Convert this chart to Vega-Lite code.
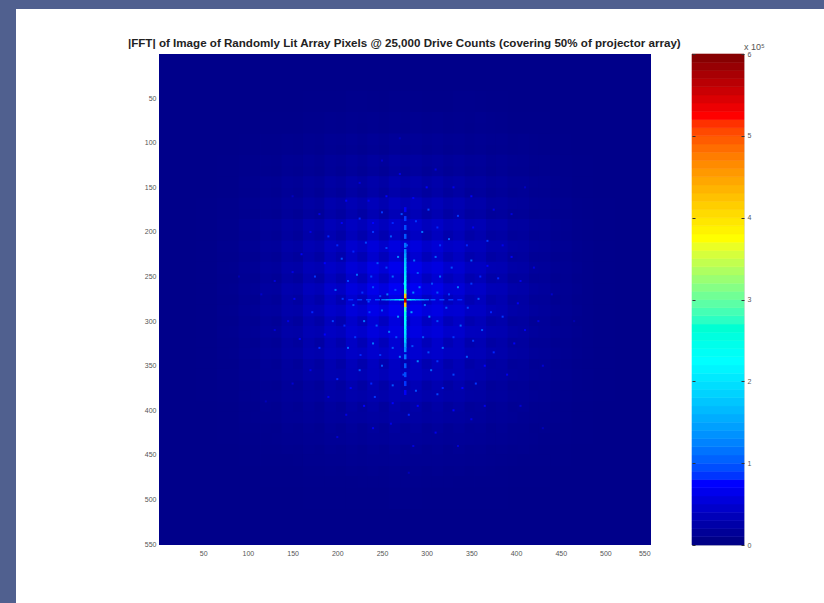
{"$schema":"https://vega.github.io/schema/vega-lite/v6.json","background":"#50608f","padding":{"left":15,"top":8,"right":0,"bottom":0},"bounds":"flush","spacing":41,
"datasets":{
"panel":[{"x":-159.5,"x2":744.6,"y":-50,"y2":617.2}],
"base":[{"x":0.5,"x2":551,"y":0.5,"y2":551,"v":0.07}],
"titleRow":[{"x":275,"y":0.5,"t":"|FFT| of Image of Randomly Lit Array Pixels @ 25,000 Drive Counts (covering 50% of projector array)"}],
"cells":[
{"x":180,"y":60,"v":0.09},{"x":204,"y":60,"v":0.09},{"x":228,"y":60,"v":0.1},{"x":252,"y":60,"v":0.09},{"x":276,"y":60,"v":0.1},{"x":300,"y":60,"v":0.09},{"x":324,"y":60,"v":0.09},{"x":348,"y":60,"v":0.1},{"x":372,"y":60,"v":0.09},
{"x":132,"y":84,"v":0.09},{"x":156,"y":84,"v":0.09},{"x":180,"y":84,"v":0.1},{"x":204,"y":84,"v":0.11},{"x":228,"y":84,"v":0.12},{"x":252,"y":84,"v":0.12},{"x":276,"y":84,"v":0.12},{"x":300,"y":84,"v":0.13},{"x":324,"y":84,"v":0.12},{"x":348,"y":84,"v":0.1},{"x":372,"y":84,"v":0.11},{"x":396,"y":84,"v":0.09},{"x":420,"y":84,"v":0.09},
{"x":108,"y":108,"v":0.09},{"x":132,"y":108,"v":0.1},{"x":156,"y":108,"v":0.12},{"x":180,"y":108,"v":0.13},{"x":204,"y":108,"v":0.15},{"x":228,"y":108,"v":0.15},{"x":252,"y":108,"v":0.16},{"x":276,"y":108,"v":0.17},{"x":300,"y":108,"v":0.16},{"x":324,"y":108,"v":0.15},{"x":348,"y":108,"v":0.14},{"x":372,"y":108,"v":0.13},{"x":396,"y":108,"v":0.12},{"x":420,"y":108,"v":0.1},{"x":444,"y":108,"v":0.09},
{"x":84,"y":132,"v":0.09},{"x":108,"y":132,"v":0.1},{"x":132,"y":132,"v":0.12},{"x":156,"y":132,"v":0.15},{"x":180,"y":132,"v":0.16},{"x":204,"y":132,"v":0.19},{"x":228,"y":132,"v":0.21},{"x":252,"y":132,"v":0.22},{"x":276,"y":132,"v":0.24},{"x":300,"y":132,"v":0.22},{"x":324,"y":132,"v":0.21},{"x":348,"y":132,"v":0.19},{"x":372,"y":132,"v":0.16},{"x":396,"y":132,"v":0.15},{"x":420,"y":132,"v":0.12},{"x":444,"y":132,"v":0.1},{"x":468,"y":132,"v":0.09},
{"x":84,"y":156,"v":0.09},{"x":108,"y":156,"v":0.12},{"x":132,"y":156,"v":0.15},{"x":156,"y":156,"v":0.18},{"x":180,"y":156,"v":0.21},{"x":204,"y":156,"v":0.25},{"x":228,"y":156,"v":0.28},{"x":252,"y":156,"v":0.29},{"x":276,"y":156,"v":0.32},{"x":300,"y":156,"v":0.29},{"x":324,"y":156,"v":0.28},{"x":348,"y":156,"v":0.25},{"x":372,"y":156,"v":0.21},{"x":396,"y":156,"v":0.18},{"x":420,"y":156,"v":0.15},{"x":444,"y":156,"v":0.12},{"x":468,"y":156,"v":0.09},
{"x":60,"y":180,"v":0.09},{"x":84,"y":180,"v":0.1},{"x":108,"y":180,"v":0.13},{"x":132,"y":180,"v":0.16},{"x":156,"y":180,"v":0.21},{"x":180,"y":180,"v":0.25},{"x":204,"y":180,"v":0.32},{"x":228,"y":180,"v":0.36},{"x":252,"y":180,"v":0.39},{"x":276,"y":180,"v":0.42},{"x":300,"y":180,"v":0.39},{"x":324,"y":180,"v":0.36},{"x":348,"y":180,"v":0.32},{"x":372,"y":180,"v":0.25},{"x":396,"y":180,"v":0.21},{"x":420,"y":180,"v":0.16},{"x":444,"y":180,"v":0.13},{"x":468,"y":180,"v":0.1},{"x":492,"y":180,"v":0.09},
{"x":60,"y":204,"v":0.09},{"x":84,"y":204,"v":0.1},{"x":108,"y":204,"v":0.15},{"x":132,"y":204,"v":0.19},{"x":156,"y":204,"v":0.25},{"x":180,"y":204,"v":0.32},{"x":204,"y":204,"v":0.39},{"x":228,"y":204,"v":0.45},{"x":252,"y":204,"v":0.48},{"x":276,"y":204,"v":0.52},{"x":300,"y":204,"v":0.48},{"x":324,"y":204,"v":0.45},{"x":348,"y":204,"v":0.39},{"x":372,"y":204,"v":0.32},{"x":396,"y":204,"v":0.25},{"x":420,"y":204,"v":0.19},{"x":444,"y":204,"v":0.15},{"x":468,"y":204,"v":0.1},{"x":492,"y":204,"v":0.09},
{"x":60,"y":228,"v":0.09},{"x":84,"y":228,"v":0.12},{"x":108,"y":228,"v":0.15},{"x":132,"y":228,"v":0.21},{"x":156,"y":228,"v":0.28},{"x":180,"y":228,"v":0.36},{"x":204,"y":228,"v":0.45},{"x":228,"y":228,"v":0.53},{"x":252,"y":228,"v":0.58},{"x":276,"y":228,"v":0.62},{"x":300,"y":228,"v":0.58},{"x":324,"y":228,"v":0.53},{"x":348,"y":228,"v":0.45},{"x":372,"y":228,"v":0.36},{"x":396,"y":228,"v":0.28},{"x":420,"y":228,"v":0.21},{"x":444,"y":228,"v":0.15},{"x":468,"y":228,"v":0.12},{"x":492,"y":228,"v":0.09},
{"x":60,"y":252,"v":0.09},{"x":84,"y":252,"v":0.12},{"x":108,"y":252,"v":0.16},{"x":132,"y":252,"v":0.22},{"x":156,"y":252,"v":0.29},{"x":180,"y":252,"v":0.39},{"x":204,"y":252,"v":0.48},{"x":228,"y":252,"v":0.58},{"x":252,"y":252,"v":0.66},{"x":276,"y":252,"v":0.7},{"x":300,"y":252,"v":0.66},{"x":324,"y":252,"v":0.58},{"x":348,"y":252,"v":0.48},{"x":372,"y":252,"v":0.39},{"x":396,"y":252,"v":0.29},{"x":420,"y":252,"v":0.22},{"x":444,"y":252,"v":0.16},{"x":468,"y":252,"v":0.12},{"x":492,"y":252,"v":0.09},
{"x":60,"y":276,"v":0.09},{"x":84,"y":276,"v":0.12},{"x":108,"y":276,"v":0.16},{"x":132,"y":276,"v":0.24},{"x":156,"y":276,"v":0.32},{"x":180,"y":276,"v":0.42},{"x":204,"y":276,"v":0.52},{"x":228,"y":276,"v":0.62},{"x":252,"y":276,"v":0.7},{"x":276,"y":276,"v":0.75},{"x":300,"y":276,"v":0.7},{"x":324,"y":276,"v":0.62},{"x":348,"y":276,"v":0.52},{"x":372,"y":276,"v":0.42},{"x":396,"y":276,"v":0.32},{"x":420,"y":276,"v":0.24},{"x":444,"y":276,"v":0.16},{"x":468,"y":276,"v":0.12},{"x":492,"y":276,"v":0.09},
{"x":60,"y":300,"v":0.09},{"x":84,"y":300,"v":0.12},{"x":108,"y":300,"v":0.16},{"x":132,"y":300,"v":0.22},{"x":156,"y":300,"v":0.29},{"x":180,"y":300,"v":0.39},{"x":204,"y":300,"v":0.48},{"x":228,"y":300,"v":0.58},{"x":252,"y":300,"v":0.66},{"x":276,"y":300,"v":0.7},{"x":300,"y":300,"v":0.66},{"x":324,"y":300,"v":0.58},{"x":348,"y":300,"v":0.48},{"x":372,"y":300,"v":0.39},{"x":396,"y":300,"v":0.29},{"x":420,"y":300,"v":0.22},{"x":444,"y":300,"v":0.16},{"x":468,"y":300,"v":0.12},{"x":492,"y":300,"v":0.09},
{"x":60,"y":324,"v":0.09},{"x":84,"y":324,"v":0.12},{"x":108,"y":324,"v":0.15},{"x":132,"y":324,"v":0.21},{"x":156,"y":324,"v":0.28},{"x":180,"y":324,"v":0.36},{"x":204,"y":324,"v":0.45},{"x":228,"y":324,"v":0.53},{"x":252,"y":324,"v":0.58},{"x":276,"y":324,"v":0.62},{"x":300,"y":324,"v":0.58},{"x":324,"y":324,"v":0.53},{"x":348,"y":324,"v":0.45},{"x":372,"y":324,"v":0.36},{"x":396,"y":324,"v":0.28},{"x":420,"y":324,"v":0.21},{"x":444,"y":324,"v":0.15},{"x":468,"y":324,"v":0.12},{"x":492,"y":324,"v":0.09},
{"x":60,"y":348,"v":0.09},{"x":84,"y":348,"v":0.1},{"x":108,"y":348,"v":0.15},{"x":132,"y":348,"v":0.19},{"x":156,"y":348,"v":0.25},{"x":180,"y":348,"v":0.32},{"x":204,"y":348,"v":0.39},{"x":228,"y":348,"v":0.45},{"x":252,"y":348,"v":0.48},{"x":276,"y":348,"v":0.52},{"x":300,"y":348,"v":0.48},{"x":324,"y":348,"v":0.45},{"x":348,"y":348,"v":0.39},{"x":372,"y":348,"v":0.32},{"x":396,"y":348,"v":0.25},{"x":420,"y":348,"v":0.19},{"x":444,"y":348,"v":0.15},{"x":468,"y":348,"v":0.1},{"x":492,"y":348,"v":0.09},
{"x":60,"y":372,"v":0.09},{"x":84,"y":372,"v":0.1},{"x":108,"y":372,"v":0.13},{"x":132,"y":372,"v":0.16},{"x":156,"y":372,"v":0.21},{"x":180,"y":372,"v":0.25},{"x":204,"y":372,"v":0.32},{"x":228,"y":372,"v":0.36},{"x":252,"y":372,"v":0.39},{"x":276,"y":372,"v":0.42},{"x":300,"y":372,"v":0.39},{"x":324,"y":372,"v":0.36},{"x":348,"y":372,"v":0.32},{"x":372,"y":372,"v":0.25},{"x":396,"y":372,"v":0.21},{"x":420,"y":372,"v":0.16},{"x":444,"y":372,"v":0.13},{"x":468,"y":372,"v":0.1},{"x":492,"y":372,"v":0.09},
{"x":84,"y":396,"v":0.09},{"x":108,"y":396,"v":0.12},{"x":132,"y":396,"v":0.15},{"x":156,"y":396,"v":0.18},{"x":180,"y":396,"v":0.21},{"x":204,"y":396,"v":0.25},{"x":228,"y":396,"v":0.28},{"x":252,"y":396,"v":0.29},{"x":276,"y":396,"v":0.32},{"x":300,"y":396,"v":0.29},{"x":324,"y":396,"v":0.28},{"x":348,"y":396,"v":0.25},{"x":372,"y":396,"v":0.21},{"x":396,"y":396,"v":0.18},{"x":420,"y":396,"v":0.15},{"x":444,"y":396,"v":0.12},{"x":468,"y":396,"v":0.09},
{"x":84,"y":420,"v":0.09},{"x":108,"y":420,"v":0.1},{"x":132,"y":420,"v":0.12},{"x":156,"y":420,"v":0.15},{"x":180,"y":420,"v":0.16},{"x":204,"y":420,"v":0.19},{"x":228,"y":420,"v":0.21},{"x":252,"y":420,"v":0.22},{"x":276,"y":420,"v":0.24},{"x":300,"y":420,"v":0.22},{"x":324,"y":420,"v":0.21},{"x":348,"y":420,"v":0.19},{"x":372,"y":420,"v":0.16},{"x":396,"y":420,"v":0.15},{"x":420,"y":420,"v":0.12},{"x":444,"y":420,"v":0.1},{"x":468,"y":420,"v":0.09},
{"x":108,"y":444,"v":0.09},{"x":132,"y":444,"v":0.1},{"x":156,"y":444,"v":0.12},{"x":180,"y":444,"v":0.13},{"x":204,"y":444,"v":0.15},{"x":228,"y":444,"v":0.15},{"x":252,"y":444,"v":0.16},{"x":276,"y":444,"v":0.17},{"x":300,"y":444,"v":0.16},{"x":324,"y":444,"v":0.15},{"x":348,"y":444,"v":0.15},{"x":372,"y":444,"v":0.13},{"x":396,"y":444,"v":0.12},{"x":420,"y":444,"v":0.1},{"x":444,"y":444,"v":0.09},
{"x":132,"y":468,"v":0.09},{"x":156,"y":468,"v":0.09},{"x":180,"y":468,"v":0.1},{"x":204,"y":468,"v":0.1},{"x":228,"y":468,"v":0.12},{"x":252,"y":468,"v":0.12},{"x":276,"y":468,"v":0.12},{"x":300,"y":468,"v":0.12},{"x":324,"y":468,"v":0.12},{"x":348,"y":468,"v":0.1},{"x":372,"y":468,"v":0.1},{"x":396,"y":468,"v":0.09},{"x":420,"y":468,"v":0.09},
{"x":180,"y":492,"v":0.09},{"x":204,"y":492,"v":0.09},{"x":228,"y":492,"v":0.09},{"x":252,"y":492,"v":0.09},{"x":276,"y":492,"v":0.1},{"x":300,"y":492,"v":0.09},{"x":324,"y":492,"v":0.09},{"x":348,"y":492,"v":0.09},{"x":372,"y":492,"v":0.09}
],
"speckle":[
{"x":262,"y":250,"v":1.1},{"x":292,"y":262,"v":1.2},{"x":250,"y":288,"v":1},{"x":303,"y":295,"v":1.3},{"x":240,"y":262,"v":0.95},{"x":315,"y":250,"v":1.1},{"x":258,"y":312,"v":1.2},{"x":296,"y":318,"v":1},{"x":230,"y":300,"v":1.15},{"x":322,"y":285,"v":1},{"x":268,"y":228,"v":1.3},{"x":286,"y":232,"v":1.1},{"x":245,"y":235,"v":0.95},{"x":310,"y":228,"v":1.05},{"x":222,"y":248,"v":1.1},{"x":335,"y":262,"v":1.2},{"x":218,"y":282,"v":0.95},{"x":338,"y":305,"v":1.05},{"x":240,"y":325,"v":1.2},{"x":318,"y":330,"v":1.1},{"x":270,"y":340,"v":1.2},{"x":290,"y":345,"v":1.3},{"x":250,"y":350,"v":1},{"x":305,"y":355,"v":1.05},{"x":260,"y":205,"v":1},{"x":295,"y":200,"v":1.15},{"x":232,"y":212,"v":0.9},{"x":325,"y":208,"v":1},{"x":205,"y":230,"v":0.95},{"x":350,"y":232,"v":1},{"x":198,"y":265,"v":1.05},{"x":358,"y":275,"v":1},{"x":195,"y":300,"v":0.9},{"x":362,"y":310,"v":0.95},{"x":212,"y":330,"v":1.05},{"x":345,"y":340,"v":1},{"x":225,"y":355,"v":0.95},{"x":330,"y":360,"v":0.9},{"x":262,"y":372,"v":1},{"x":288,"y":378,"v":0.95},{"x":242,"y":385,"v":0.85},{"x":312,"y":382,"v":0.9},{"x":272,"y":180,"v":0.95},{"x":250,"y":178,"v":0.85},{"x":302,"y":175,"v":0.9},{"x":225,"y":185,"v":0.8},{"x":335,"y":182,"v":0.85},{"x":190,"y":205,"v":0.8},{"x":368,"y":210,"v":0.85},{"x":175,"y":250,"v":0.85},{"x":380,"y":252,"v":0.8},{"x":172,"y":290,"v":0.8},{"x":385,"y":295,"v":0.85},{"x":180,"y":330,"v":0.8},{"x":375,"y":335,"v":0.8},{"x":200,"y":365,"v":0.8},{"x":355,"y":370,"v":0.85},{"x":230,"y":395,"v":0.75},{"x":330,"y":400,"v":0.75},{"x":280,"y":405,"v":0.8},{"x":255,"y":160,"v":0.75},{"x":300,"y":150,"v":0.75},{"x":210,"y":165,"v":0.7},{"x":350,"y":160,"v":0.7},{"x":160,"y":225,"v":0.7},{"x":395,"y":228,"v":0.7},{"x":152,"y":275,"v":0.7},{"x":402,"y":280,"v":0.7},{"x":158,"y":320,"v":0.7},{"x":398,"y":325,"v":0.7},{"x":190,"y":385,"v":0.65},{"x":365,"y":395,"v":0.65},{"x":240,"y":420,"v":0.65},{"x":310,"y":425,"v":0.65},{"x":180,"y":180,"v":0.6},{"x":375,"y":175,"v":0.6},{"x":270,"y":135,"v":0.6},{"x":130,"y":255,"v":0.55},{"x":425,"y":300,"v":0.55},{"x":285,"y":440,"v":0.55},{"x":275,"y":258,"v":1.4},{"x":283,"y":290,"v":1.5},{"x":268,"y":295,"v":1.4},{"x":285,"y":268,"v":1.3},{"x":256,"y":270,"v":1.2},{"x":298,"y":282,"v":1.15},{"x":244,"y":305,"v":1},{"x":312,"y":268,"v":1},{"x":235,"y":278,"v":0.95},{"x":328,"y":240,"v":0.95},{"x":212,"y":255,"v":0.9},{"x":346,"y":285,"v":0.9},{"x":262,"y":330,"v":1},{"x":302,"y":335,"v":0.95},{"x":278,"y":215,"v":1},{"x":255,"y":218,"v":0.9},{"x":315,"y":215,"v":0.85},{"x":240,"y":200,"v":0.85},{"x":220,"y":318,"v":0.85},{"x":352,"y":322,"v":0.85},{"x":274,"y":360,"v":0.95},{"x":238,"y":370,"v":0.8},{"x":318,"y":375,"v":0.8},{"x":200,"y":215,"v":0.8},{"x":360,"y":250,"v":0.8},
{"x":265,"y":265,"v":0.95},{"x":248,"y":272,"v":0.9},{"x":306,"y":258,"v":0.95},{"x":290,"y":246,"v":1},{"x":255,"y":240,"v":0.9},{"x":238,"y":250,"v":0.9},{"x":325,"y":270,"v":0.9},{"x":312,"y":300,"v":0.95},{"x":228,"y":268,"v":0.85},{"x":236,"y":290,"v":0.9},{"x":266,"y":318,"v":0.95},{"x":284,"y":328,"v":0.95},{"x":248,"y":338,"v":0.85},{"x":312,"y":345,"v":0.85},{"x":330,"y":318,"v":0.85},{"x":226,"y":338,"v":0.8},{"x":208,"y":305,"v":0.8},{"x":206,"y":275,"v":0.85},{"x":350,"y":258,"v":0.85},{"x":345,"y":215,"v":0.8},{"x":218,"y":222,"v":0.8},{"x":262,"y":190,"v":0.8},{"x":288,"y":188,"v":0.85},{"x":312,"y":195,"v":0.8},{"x":240,"y":190,"v":0.75},{"x":186,"y":235,"v":0.75},{"x":186,"y":315,"v":0.75},{"x":368,"y":238,"v":0.75},{"x":372,"y":290,"v":0.8},{"x":365,"y":350,"v":0.75},{"x":340,"y":375,"v":0.75},{"x":290,"y":395,"v":0.75},{"x":262,"y":392,"v":0.75},{"x":215,"y":375,"v":0.7},{"x":205,"y":190,"v":0.7},{"x":352,"y":195,"v":0.7},{"x":285,"y":162,"v":0.7},{"x":235,"y":165,"v":0.65},{"x":330,"y":150,"v":0.65},{"x":385,"y":215,"v":0.65},{"x":405,"y":255,"v":0.65},{"x":410,"y":310,"v":0.65},{"x":390,"y":360,"v":0.65},{"x":350,"y":410,"v":0.6},{"x":260,"y":415,"v":0.6},{"x":210,"y":405,"v":0.6},{"x":170,"y":355,"v":0.6},{"x":145,"y":300,"v":0.6},{"x":150,"y":245,"v":0.6},{"x":170,"y":200,"v":0.6},{"x":225,"y":145,"v":0.55},{"x":310,"y":130,"v":0.55},{"x":395,"y":180,"v":0.55},{"x":420,"y":240,"v":0.55},{"x":130,"y":310,"v":0.5},{"x":150,"y":370,"v":0.5},{"x":200,"y":430,"v":0.5},{"x":335,"y":440,"v":0.5},{"x":405,"y":395,"v":0.5},{"x":430,"y":350,"v":0.5},{"x":440,"y":270,"v":0.45},{"x":115,"y":270,"v":0.45},{"x":250,"y":120,"v":0.45},{"x":150,"y":160,"v":0.4},{"x":410,"y":150,"v":0.4},{"x":120,"y":390,"v":0.35},{"x":430,"y":420,"v":0.35},{"x":280,"y":470,"v":0.35},{"x":270,"y":95,"v":0.35},{"x":90,"y":250,"v":0.3},{"x":465,"y":300,"v":0.3}
],
"crossV":[
{"x":276,"y":175,"v":0.7},{"x":276,"y":185,"v":0.85},{"x":276,"y":195,"v":0.95},{"x":276,"y":205,"v":1},{"x":276,"y":215,"v":1.15},{"x":276,"y":222,"v":1.3},{"x":276,"y":227,"v":1.5},{"x":276,"y":232,"v":1.7},{"x":276,"y":237,"v":1.8},{"x":276,"y":242,"v":1.9},{"x":276,"y":247,"v":2},{"x":276,"y":252,"v":2.1},{"x":276,"y":257,"v":2.2},{"x":276,"y":262,"v":2.4},{"x":276,"y":267,"v":2.8},{"x":276,"y":272,"v":4.2},{"x":276,"y":277,"v":5.6},{"x":276,"y":282,"v":4.2},{"x":276,"y":287,"v":2.8},{"x":276,"y":292,"v":2.5},{"x":276,"y":297,"v":2.3},{"x":276,"y":302,"v":2.2},{"x":276,"y":307,"v":2.1},{"x":276,"y":312,"v":2},{"x":276,"y":317,"v":1.9},{"x":276,"y":322,"v":1.8},{"x":276,"y":327,"v":1.5},{"x":276,"y":332,"v":1.3},{"x":276,"y":340,"v":1.15},{"x":276,"y":350,"v":1},{"x":276,"y":360,"v":0.95},{"x":276,"y":370,"v":0.85},{"x":276,"y":380,"v":0.7}
],
"crossH":[
{"x":215,"y":276,"v":0.8},{"x":225,"y":276,"v":0.85},{"x":235,"y":276,"v":0.9},{"x":245,"y":276,"v":0.95},{"x":252,"y":276,"v":1.1},{"x":257,"y":276,"v":1.3},{"x":262,"y":276,"v":1.5},{"x":267,"y":276,"v":1.8},{"x":272,"y":276,"v":2.2},{"x":280,"y":276,"v":2.2},{"x":285,"y":276,"v":1.8},{"x":290,"y":276,"v":1.5},{"x":295,"y":276,"v":1.3},{"x":300,"y":276,"v":1.1},{"x":307,"y":276,"v":0.95},{"x":317,"y":276,"v":0.9},{"x":327,"y":276,"v":0.85},{"x":337,"y":276,"v":0.8}
],
"bar":[
{"y":0,"y2":0.1,"v":0.05},{"y":0.1,"y2":0.2,"v":0.15},{"y":0.2,"y2":0.3,"v":0.25},{"y":0.3,"y2":0.4,"v":0.35},{"y":0.4,"y2":0.5,"v":0.45},{"y":0.5,"y2":0.6,"v":0.55},{"y":0.6,"y2":0.7,"v":0.65},{"y":0.7,"y2":0.8,"v":0.75},{"y":0.8,"y2":0.9,"v":0.85},{"y":0.9,"y2":1,"v":0.95},
{"y":1,"y2":1.1,"v":1.05},{"y":1.1,"y2":1.2,"v":1.15},{"y":1.2,"y2":1.3,"v":1.25},{"y":1.3,"y2":1.4,"v":1.35},{"y":1.4,"y2":1.5,"v":1.45},{"y":1.5,"y2":1.6,"v":1.55},{"y":1.6,"y2":1.7,"v":1.65},{"y":1.7,"y2":1.8,"v":1.75},{"y":1.8,"y2":1.9,"v":1.85},{"y":1.9,"y2":2,"v":1.95},
{"y":2,"y2":2.1,"v":2.05},{"y":2.1,"y2":2.2,"v":2.15},{"y":2.2,"y2":2.3,"v":2.25},{"y":2.3,"y2":2.4,"v":2.35},{"y":2.4,"y2":2.5,"v":2.45},{"y":2.5,"y2":2.6,"v":2.55},{"y":2.6,"y2":2.7,"v":2.65},{"y":2.7,"y2":2.8,"v":2.75},{"y":2.8,"y2":2.9,"v":2.85},{"y":2.9,"y2":3,"v":2.95},
{"y":3,"y2":3.1,"v":3.05},{"y":3.1,"y2":3.2,"v":3.15},{"y":3.2,"y2":3.3,"v":3.25},{"y":3.3,"y2":3.4,"v":3.35},{"y":3.4,"y2":3.5,"v":3.45},{"y":3.5,"y2":3.6,"v":3.55},{"y":3.6,"y2":3.7,"v":3.65},{"y":3.7,"y2":3.8,"v":3.75},{"y":3.8,"y2":3.9,"v":3.85},{"y":3.9,"y2":4,"v":3.95},
{"y":4,"y2":4.1,"v":4.05},{"y":4.1,"y2":4.2,"v":4.15},{"y":4.2,"y2":4.3,"v":4.25},{"y":4.3,"y2":4.4,"v":4.35},{"y":4.4,"y2":4.5,"v":4.45},{"y":4.5,"y2":4.6,"v":4.55},{"y":4.6,"y2":4.7,"v":4.65},{"y":4.7,"y2":4.8,"v":4.75},{"y":4.8,"y2":4.9,"v":4.85},{"y":4.9,"y2":5,"v":4.95},
{"y":5,"y2":5.1,"v":5.05},{"y":5.1,"y2":5.2,"v":5.15},{"y":5.2,"y2":5.3,"v":5.25},{"y":5.3,"y2":5.4,"v":5.35},{"y":5.4,"y2":5.5,"v":5.45},{"y":5.5,"y2":5.6,"v":5.55},{"y":5.6,"y2":5.7,"v":5.65},{"y":5.7,"y2":5.8,"v":5.75},{"y":5.8,"y2":5.9,"v":5.85},{"y":5.9,"y2":6,"v":5.95}
],
"exp":[{"x":1,"y":6,"t":"x 10⁵"}]
},
"hconcat":[
{"width":492,"height":491,
"encoding":{
"x":{"field":"x","type":"quantitative","scale":{"domain":[0.5,551],"nice":false,"zero":false},"axis":{"zindex":1,"values":[50,100,150,200,250,300,350,400,450,500,550],"title":null,"grid":false,"domain":false,"ticks":false,"labelFont":"Liberation Sans","labelFontSize":7,"labelColor":"#555555","labelPadding":4}},
"y":{"field":"y","type":"quantitative","scale":{"domain":[0.5,551],"nice":false,"zero":false,"reverse":true},"axis":{"zindex":1,"values":[50,100,150,200,250,300,350,400,450,500,550],"title":null,"grid":false,"domain":false,"ticks":false,"labelFont":"Liberation Sans","labelFontSize":7,"labelColor":"#555555","labelPadding":3}}
},
"layer":[
{"data":{"name":"panel"},"mark":{"type":"rect","color":"#ffffff","clip":false},"encoding":{"x2":{"field":"x2"},"y2":{"field":"y2"}}},
{"data":{"name":"base"},"mark":{"type":"rect"},"encoding":{"x2":{"field":"x2"},"y2":{"field":"y2"},"color":{"field":"v","type":"quantitative","legend":null,"scale":{"domain":[0,0.75,2.25,3.75,5.25,6],"range":["#00007f","#0000ff","#00ffff","#ffff00","#ff0000","#7f0000"]}}}},
{"data":{"name":"cells"},"mark":{"type":"rect","width":33,"height":33,"opacity":0.55},"encoding":{"color":{"field":"v","type":"quantitative","legend":null,"scale":{"domain":[0,0.75,2.25,3.75,5.25,6],"range":["#00007f","#0000ff","#00ffff","#ffff00","#ff0000","#7f0000"]}}}},
{"data":{"name":"speckle"},"mark":{"type":"rect","width":2,"height":2},"encoding":{"color":{"field":"v","type":"quantitative","legend":null,"scale":{"domain":[0,0.75,2.25,3.75,5.25,6],"range":["#00007f","#0000ff","#00ffff","#ffff00","#ff0000","#7f0000"]}}}},
{"data":{"name":"crossH"},"mark":{"type":"rect","width":5,"height":1.5},"encoding":{"color":{"field":"v","type":"quantitative","legend":null,"scale":{"domain":[0,0.75,2.25,3.75,5.25,6],"range":["#00007f","#0000ff","#00ffff","#ffff00","#ff0000","#7f0000"]}}}},
{"data":{"name":"crossV"},"mark":{"type":"rect","width":2.5,"height":5},"encoding":{"color":{"field":"v","type":"quantitative","legend":null,"scale":{"domain":[0,0.75,2.25,3.75,5.25,6],"range":["#00007f","#0000ff","#00ffff","#ffff00","#ff0000","#7f0000"]}}}},
{"data":{"name":"titleRow"},"mark":{"type":"text","clip":false,"dy":-10,"align":"center","font":"Liberation Sans","fontSize":11.6,"fontWeight":"bold","color":"#222222"},"encoding":{"text":{"field":"t"}}}
]},
{"width":52,"height":491,
"resolve":{"axis":{"y":"independent"}},
"layer":[
{"data":{"name":"bar"},"mark":{"type":"rect","strokeWidth":0.6},"encoding":{
"x":{"datum":0,"type":"quantitative","scale":{"domain":[0,1]},"axis":null},
"x2":{"datum":1},
"y":{"field":"y","type":"quantitative","scale":{"domain":[0,6],"nice":false},"axis":{"zindex":1,"orient":"right","values":[0,1,2,3,4,5,6],"title":null,"grid":false,"domain":false,"tickSize":-3,"tickColor":"#333333","labelFont":"Liberation Sans","labelFontSize":7,"labelColor":"#555555","labelPadding":6}},
"y2":{"field":"y2"},
"color":{"field":"v","type":"quantitative","legend":null,"scale":{"domain":[0,0.75,2.25,3.75,5.25,6],"range":["#00007f","#0000ff","#00ffff","#ffff00","#ff0000","#7f0000"]}},
"stroke":{"field":"v","type":"quantitative","legend":null,"scale":{"domain":[0,0.75,2.25,3.75,5.25,6],"range":["#00007f","#0000ff","#00ffff","#ffff00","#ff0000","#7f0000"]}}}},
{"data":{"name":"exp"},"mark":{"type":"text","align":"left","dy":-7,"font":"Liberation Sans","fontSize":9,"color":"#555555"},"encoding":{
"x":{"field":"x","type":"quantitative","scale":{"domain":[0,1]},"axis":null},
"y":{"field":"y","type":"quantitative","scale":{"domain":[0,6],"nice":false},"axis":{"zindex":1,"orient":"left","values":[0,1,2,3,4,5,6],"title":null,"grid":false,"domain":false,"labels":false,"tickSize":-3,"tickColor":"#333333"}},
"text":{"field":"t"}}}
]}
]}
